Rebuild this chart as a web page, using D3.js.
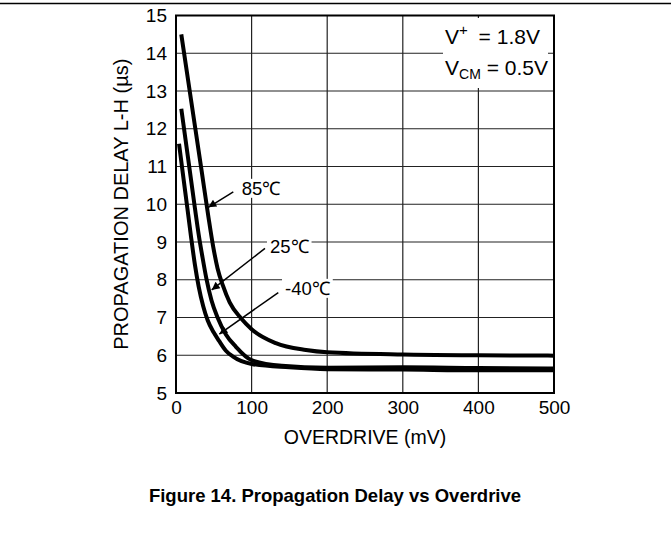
<!DOCTYPE html>
<html><head><meta charset="utf-8">
<script src="https://cdn.jsdelivr.net/npm/d3@7"></script>
<style>
body{margin:0;background:#fff;}
svg text{font-family:Arial,"Liberation Sans",Helvetica,sans-serif;fill:#000;}
</style></head>
<body><svg id="c" width="671" height="541"></svg>
<script>
const xTicks=[0,100,200,300,400,500];
const yTicks=[5,6,7,8,9,10,11,12,13,14,15];
const seriesNames=["85℃","25℃","-40℃"];
const s85=[[7,14.5],[20,12.75],[34,10.87],[43,9.65],[49,8.9],[55,8.3],[62,7.85],[71,7.4],[86,6.98],[100,6.69],[132,6.32],[172,6.14],[200,6.08],[300,6.02],[400,6.0],[500,5.99]];
const s25=[[7,12.53],[16,11.22],[25,9.9],[30,9.2],[35,8.6],[40,8.05],[47,7.45],[55,7.0],[66,6.55],[79,6.23],[100,5.87],[140,5.72],[200,5.67],[300,5.68],[400,5.66],[500,5.65]];
const sM40=[[4,11.6],[10,10.67],[15,9.9],[20,9.12],[25,8.4],[30,7.82],[36,7.3],[42,6.92],[50,6.6],[57,6.38],[66,6.12],[75,5.97],[100,5.77],[150,5.68],[200,5.63],[300,5.62],[400,5.6],[500,5.6]];
const series=[s85,s25,sM40];

const svg=d3.select("#c");
const x=d3.scaleLinear().domain([0,500]).range([176,554]);
const y=d3.scaleLinear().domain([5,15]).range([393,15.5]);
const FS=18.5;

// top rule
svg.append("line").attr("x1",0).attr("x2",671).attr("y1",3.5).attr("y2",3.5).attr("stroke","#000").attr("stroke-width",1.3);

// grid
const g=svg.append("g");
g.selectAll(".vg").data(xTicks).enter().append("line")
 .attr("x1",d=>x(d)).attr("x2",d=>x(d)).attr("y1",y(5)).attr("y2",y(15))
 .attr("stroke","#222").attr("stroke-width",1.2);
g.selectAll(".hg").data(yTicks).enter().append("line")
 .attr("x1",x(0)).attr("x2",x(500)).attr("y1",d=>y(d)).attr("y2",d=>y(d))
 .attr("stroke","#222").attr("stroke-width",1.2);

// axes (labels only)
const xa=svg.append("g").attr("transform",`translate(0,${y(5)})`).call(d3.axisBottom(x).tickValues(xTicks).tickSize(0).tickPadding(8));
xa.select(".domain").remove();
xa.selectAll("text").style("font-size","19px").attr("font-family","Arial");
const ya=svg.append("g").attr("transform",`translate(${x(0)},0)`).call(d3.axisLeft(y).tickValues(yTicks).tickSize(0).tickPadding(9));
ya.select(".domain").remove();
ya.selectAll("text").style("font-size","19px").attr("font-family","Arial");

function boxedText(parent, tx, ty, str){
  const grp=parent.append("g");
  const r=grp.append("rect").attr("fill","#fff");
  const t=grp.append("text").attr("x",tx).attr("y",ty).style("font-size",FS+"px").text(str);
  const b=t.node().getBBox();
  r.attr("x",b.x-3).attr("y",b.y+1).attr("width",b.width+6).attr("height",b.height-2);
  return grp;
}

// condition box
const cb=svg.append("g");
cb.append("rect").attr("x",443).attr("y",18).attr("width",105).attr("height",70).attr("fill","#fff");
const t1=cb.append("text").attr("x",445).attr("y",44).style("font-size","21px");
t1.append("tspan").text("V");
t1.append("tspan").attr("dy",-9).style("font-size","15px").text("+");
t1.append("tspan").attr("dy",9).attr("dx",5).text(" = 1.8V");
const t2=cb.append("text").attr("x",445).attr("y",75).style("font-size","21px");
t2.append("tspan").text("V");
t2.append("tspan").attr("dy",4).style("font-size","14px").text("CM");
t2.append("tspan").attr("dy",-4).text(" = 0.5V");

// curves
const line=d3.line().x(d=>x(d[0])).y(d=>y(d[1])).curve(d3.curveMonotoneX);
svg.append("g").selectAll("path").data(series).enter().append("path")
 .attr("d",line).attr("fill","none").attr("stroke","#000").attr("stroke-width",4).attr("stroke-linejoin","round");

// frame
svg.append("rect").attr("x",x(0)).attr("y",y(15)).attr("width",x(500)-x(0)).attr("height",y(5)-y(15))
 .attr("fill","none").attr("stroke","#000").attr("stroke-width",2);

// annotations (data units): label start/baseline, arrow from -> tip
const ann=[
 {name:seriesNames[0], lx:87, ly:10.25, from:[75.8,10.33], to:[42.7,9.92]},
 {name:seriesNames[1], lx:124.3, ly:8.71, from:[117.7,8.83], to:[47.2,7.73]},
 {name:seriesNames[2], lx:144.2, ly:7.6, from:[135.3,7.66], to:[57.3,6.56]}
];
svg.append("defs").append("marker").attr("id","ah").attr("viewBox","0 0 10 10").attr("refX",10).attr("refY",5)
 .attr("markerWidth",11).attr("markerHeight",8).attr("markerUnits","userSpaceOnUse").attr("orient","auto")
 .append("path").attr("d","M0,0L10,5L0,10Z").attr("fill","#000");
const ag=svg.append("g");
ann.forEach(a=>{
  boxedText(ag, x(a.lx), y(a.ly), a.name);
  ag.append("line").attr("x1",x(a.from[0])).attr("y1",y(a.from[1])).attr("x2",x(a.to[0])).attr("y2",y(a.to[1]))
    .attr("stroke","#000").attr("stroke-width",1.5).attr("marker-end","url(#ah)");
});

// axis titles
svg.append("text").attr("x",(x(0)+x(500))/2).attr("y",444).attr("text-anchor","middle").style("font-size","19.5px").text("OVERDRIVE (mV)");
svg.append("text").attr("transform",`translate(128,${(y(5)+y(15))/2}) rotate(-90)`).attr("text-anchor","middle").style("font-size","20px").text("PROPAGATION DELAY L-H (µs)");

// caption
svg.append("text").attr("x",335).attr("y",502).attr("text-anchor","middle").style("font-size",FS+"px").style("font-weight","bold").text("Figure 14. Propagation Delay vs Overdrive");
</script></body></html>
